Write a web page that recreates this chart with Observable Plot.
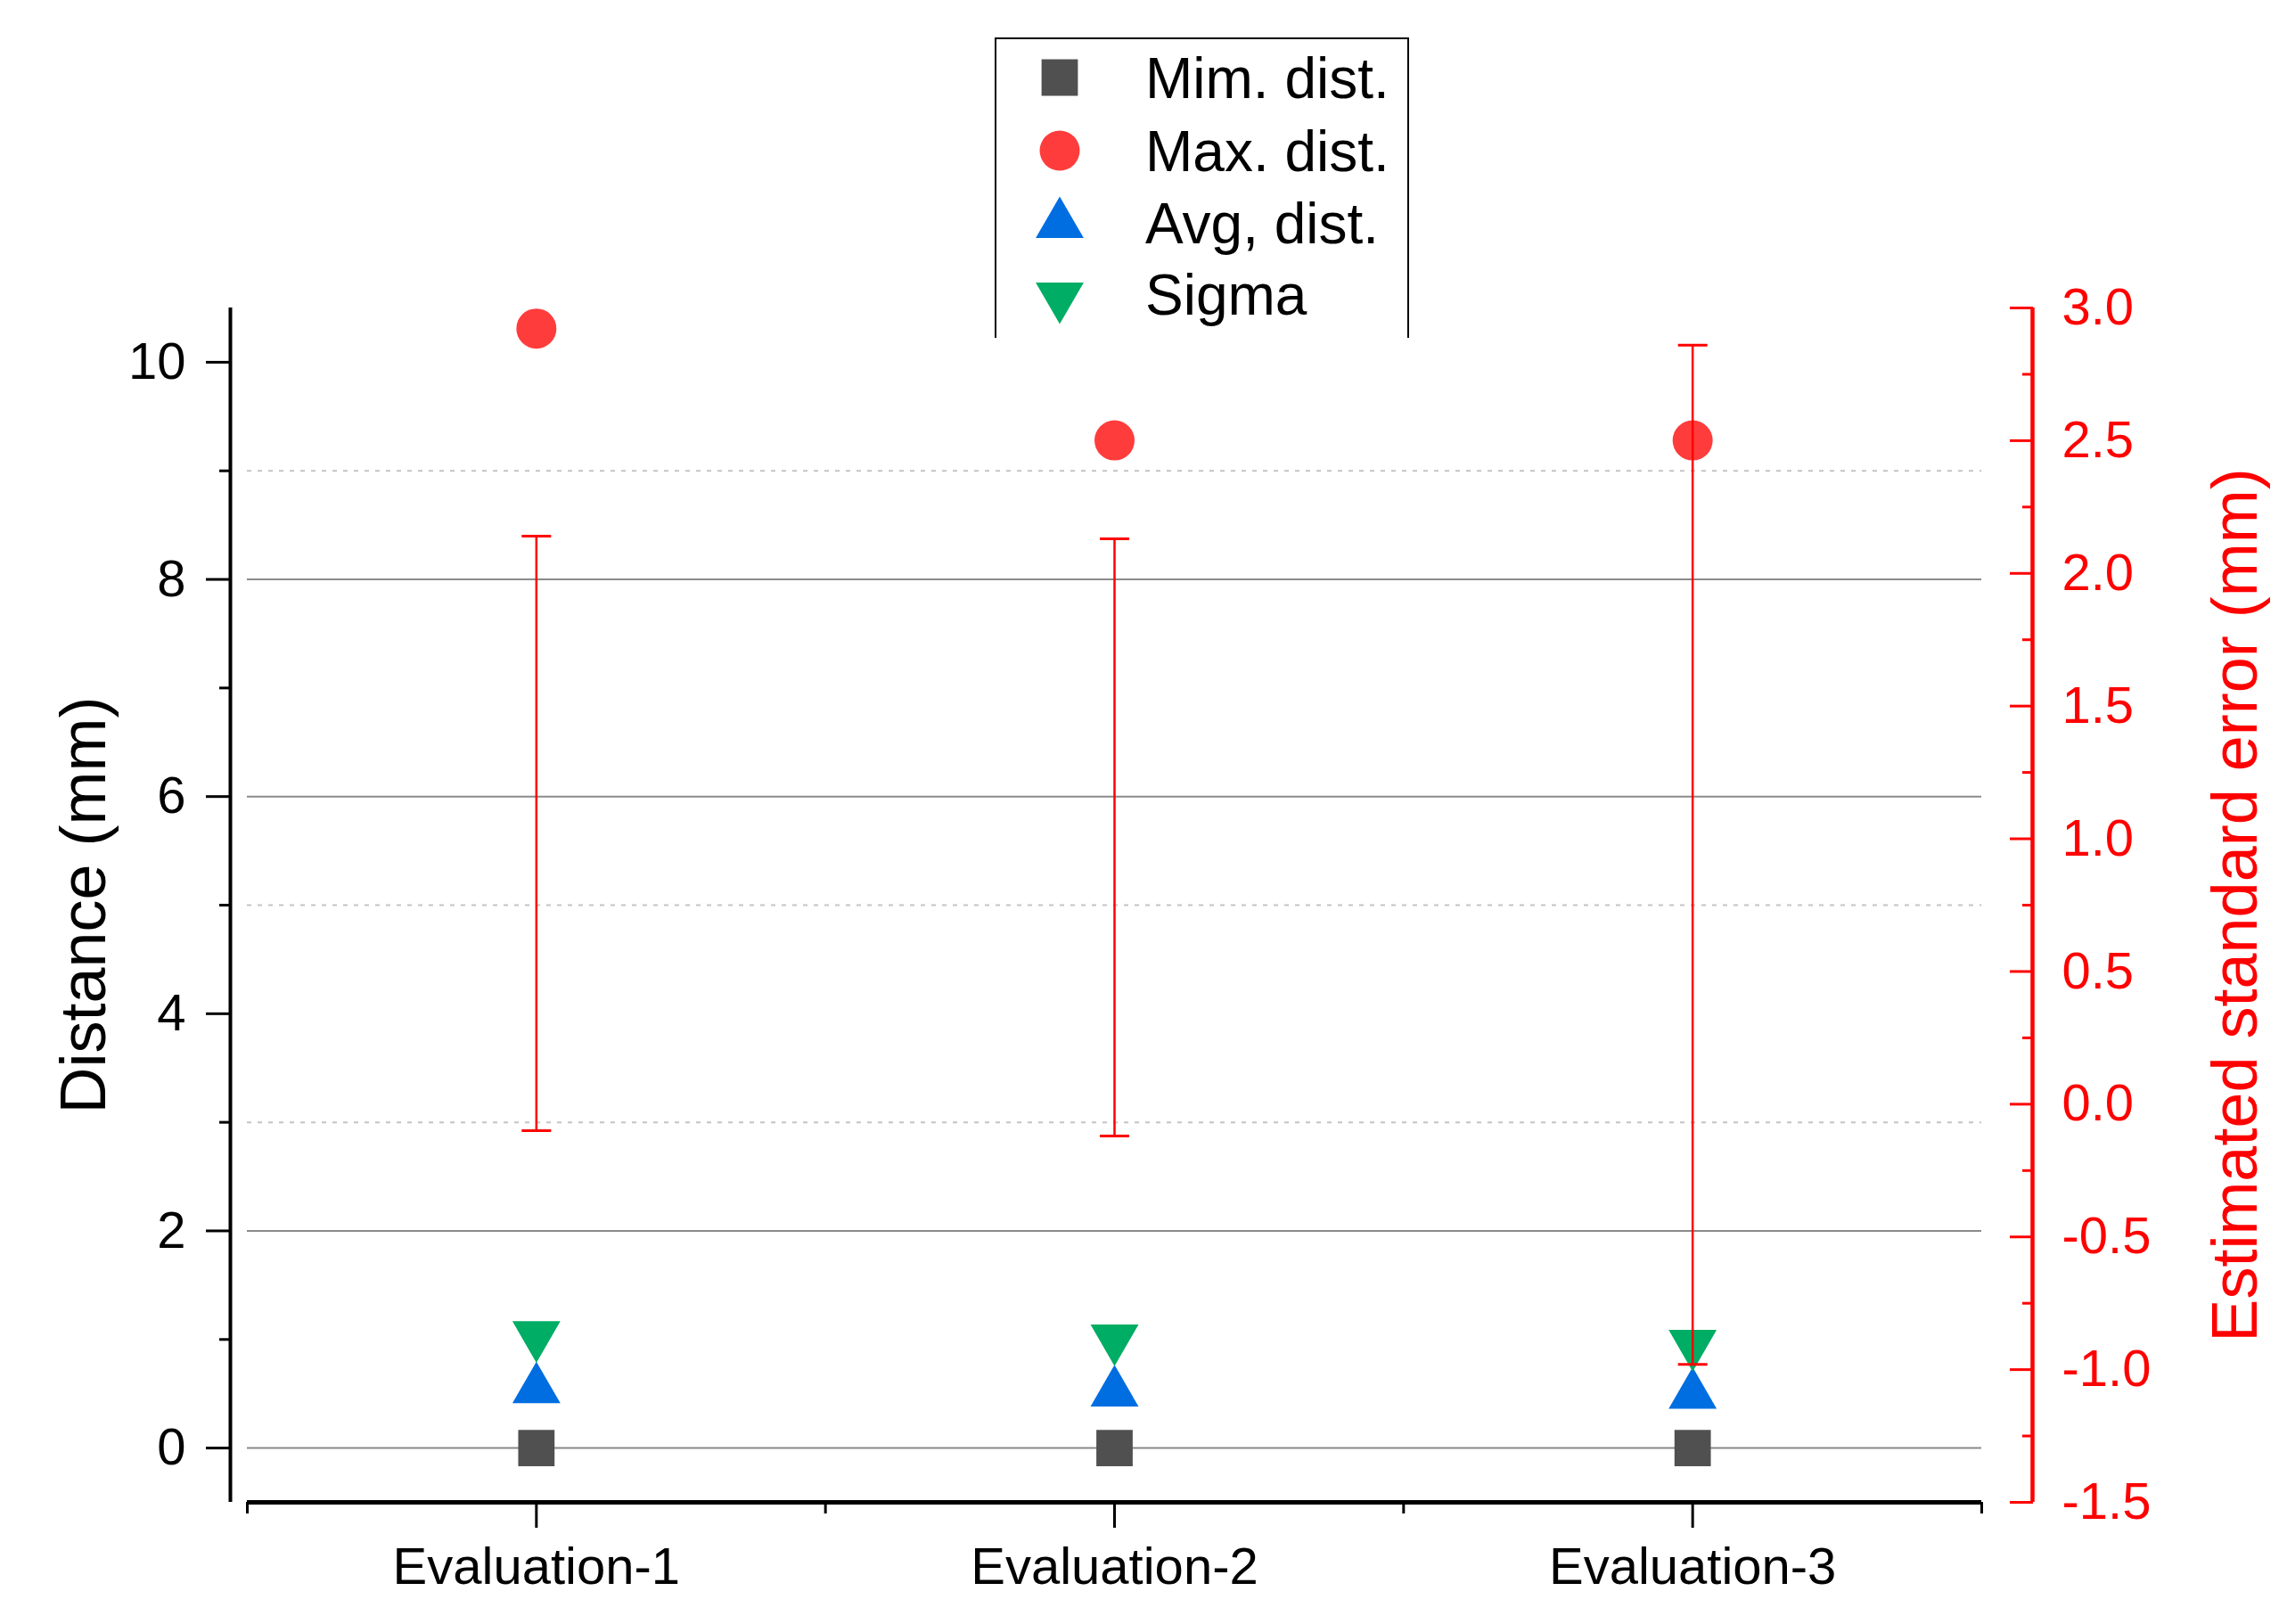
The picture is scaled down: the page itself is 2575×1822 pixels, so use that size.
<!DOCTYPE html>
<html><head><meta charset="utf-8">
<script src="https://cdn.jsdelivr.net/npm/d3@7"></script>
<script src="https://cdn.jsdelivr.net/npm/@observablehq/plot@0.6"></script>
<style>
body{margin:0;background:#fff;}
#wrap{position:relative;width:2575px;height:1822px;font-family:"Liberation Sans",Arial,sans-serif;}
#legend{position:absolute;left:1116px;top:42px;width:461px;height:335px;background:#fff;border:2px solid #000;border-bottom:none;}
#legend svg{display:block;}
</style></head><body><div id="wrap"></div>
<script>
// ---- data ----
const categories = ["Evaluation-1", "Evaluation-2", "Evaluation-3"];
const minDist = [0, 0, 0];
const maxDist = [10.31, 9.28, 9.28];
const avgDist = [0.54, 0.51, 0.49];
const sigmaVals = [1.04, 1.01, 0.96];
const errLow = [-0.10, -0.12, -0.98];   // right axis units
const errHigh = [2.14, 2.13, 2.86];     // right axis units
const leftTicks = [0, 2, 4, 6, 8, 10];
const leftMinor = [1, 3, 5, 7, 9];
const rightTicks = [-1.5, -1.0, -0.5, 0, 0.5, 1.0, 1.5, 2.0, 2.5, 3.0];
const rightMinor = [-1.25, -0.75, -0.25, 0.25, 0.75, 1.25, 1.75, 2.25, 2.75];
const gridSolid = [0, 2, 6, 8];
const gridDashed = [3, 5, 9];
const seriesNames = ["Mim. dist.", "Max. dist.", "Avg, dist.", "Sigma"];
const seriesColors = ["#505050", "#ff3c3c", "#006ee0", "#00ad64"];

const rows = categories.map((c, k) => ({
  i: k + 1, c, min: minDist[k], max: maxDist[k], avg: avgDist[k], sigma: sigmaVals[k],
  lo: errLow[k], hi: errHigh[k]
}));

const toLeft = d3.scaleLinear().domain([-1.5, 3]).range([-0.5, 10.5]);
const fmtR = v => { let r = Math.round(toLeft.invert(v) * 100) / 100; if (r === 0) r = 0; return r.toFixed(1); };

const triDown = {draw(ctx, size) {
  const y = -Math.sqrt(size / (Math.sqrt(3) * 3));
  ctx.moveTo(0, -2 * y); ctx.lineTo(-Math.sqrt(3) * y, y); ctx.lineTo(Math.sqrt(3) * y, y); ctx.closePath();
}};
const capSym = {draw(ctx, size) {
  const r = Math.sqrt(size / Math.PI);
  ctx.moveTo(-r, 0); ctx.lineTo(r, 0);
}};

const F = 58;
const font = '"Liberation Sans", Arial, sans-serif';

const chart = Plot.plot({
  width: 2575, height: 1822,
  marginLeft: 277, marginRight: 352, marginTop: 345, marginBottom: 137,
  x: {domain: [0.5, 3.5]},
  y: {domain: [-0.5, 10.5]},
  style: {fontFamily: font, background: "white", overflow: "visible", color: "black"},
  marks: [
    Plot.ruleY(gridSolid, {stroke: "#8a8a8a", strokeWidth: 2}),
    Plot.ruleY(gridDashed, {stroke: "#c4c4c4", strokeWidth: 2, strokeDasharray: "5,7"}),
    // left axis
    Plot.ruleX([0.5], {dx: -19, stroke: "black", strokeWidth: 4}),
    Plot.axisY(leftTicks, {anchor: "left", tickSize: 27, tickPadding: 23, dx: -19, fontSize: F, stroke: "black", fill: "black", strokeWidth: 3, label: null, tickFormat: d => String(d)}),
    Plot.axisY(leftMinor, {anchor: "left", tickSize: 12, dx: -19, stroke: "black", fill: "none", strokeWidth: 3, label: null}),
    // bottom axis
    Plot.ruleY([-0.5], {stroke: "black", strokeWidth: 5}),
    Plot.axisX([1, 2, 3], {anchor: "bottom", tickSize: 29, tickPadding: 21, fontSize: F, stroke: "black", fill: "black", strokeWidth: 3, label: null, tickFormat: d => categories[d - 1]}),
    Plot.axisX([0.5, 1.5, 2.5, 3.5], {anchor: "bottom", tickSize: 13, stroke: "black", fill: "none", strokeWidth: 3, label: null}),
    // right axis
    Plot.ruleX([3.5], {dx: 57, stroke: "red", strokeWidth: 4.5}),
    Plot.axisY(rightTicks.map(toLeft), {anchor: "right", tickSize: 26, dx: 31, stroke: "red", fill: "none", strokeWidth: 3, label: null}),
    Plot.axisY(rightMinor.map(toLeft), {anchor: "right", tickSize: 12, dx: 45, stroke: "red", fill: "none", strokeWidth: 3, label: null}),
    Plot.axisY(rightTicks.map(toLeft), {anchor: "right", tickSize: 0, tickPadding: 33, dx: 57, fontSize: F, fill: "red", label: null, tickFormat: fmtR}),
    // markers
    Plot.dot(rows, {x: "i", y: "min", symbol: "square", r: 23, fill: seriesColors[0]}),
    Plot.dot(rows, {x: "i", y: "max", symbol: "circle", r: 22.5, fill: seriesColors[1]}),
    Plot.dot(rows, {x: "i", y: "avg", symbol: "triangle", r: 20, fill: seriesColors[2]}),
    Plot.dot(rows, {x: "i", y: "sigma", symbol: triDown, r: 20, fill: seriesColors[3]}),
    // error bars (right axis)
    Plot.ruleX(rows, {x: "i", y1: d => toLeft(d.lo), y2: d => toLeft(d.hi), stroke: "red", strokeWidth: 2.5}),
    Plot.dot(rows, {x: "i", y: d => toLeft(d.lo), symbol: capSym, r: 16.5, stroke: "red", fill: "none", strokeWidth: 3}),
    Plot.dot(rows, {x: "i", y: d => toLeft(d.hi), symbol: capSym, r: 16.5, stroke: "red", fill: "none", strokeWidth: 3}),
    // axis titles
    Plot.text(["Distance (mm)"], {frameAnchor: "left", dx: -183, rotate: -90, textAnchor: "middle", fontSize: 72, fill: "black"}),
    Plot.text(["Estimated standard error (mm)"], {frameAnchor: "right", dx: 285, rotate: -90, textAnchor: "middle", fontSize: 72, fill: "red"})
  ]
});

const wrap = document.getElementById("wrap");
wrap.appendChild(chart);

// legend
const leg = document.createElement("div");
leg.id = "legend";
wrap.appendChild(leg);
const lsvg = d3.select(leg).append("svg").attr("width", 461).attr("height", 335);
const symTypes = [d3.symbolSquare, d3.symbolCircle, d3.symbolTriangle, triDown];
const symR = [23, 22.5, 20, 20];
const symCy = [43, 125, 207.5, 288.5];
const textBase = [66, 148, 229, 309];
seriesNames.forEach((name, k) => {
  lsvg.append("path")
    .attr("d", d3.symbol().type(symTypes[k]).size(Math.PI * symR[k] * symR[k])())
    .attr("transform", `translate(71,${symCy[k]})`)
    .attr("fill", seriesColors[k]);
  lsvg.append("text")
    .attr("x", 167).attr("y", textBase[k])
    .attr("font-family", font).attr("font-size", 64).attr("fill", "black")
    .text(name);
});
</script></body></html>
